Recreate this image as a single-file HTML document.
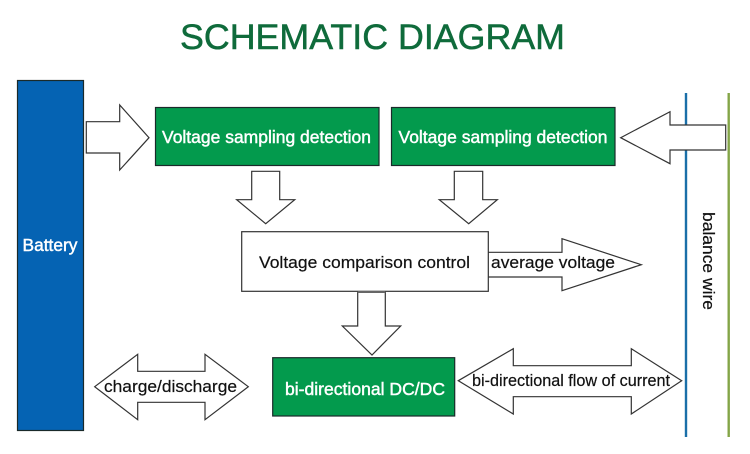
<!DOCTYPE html>
<html>
<head>
<meta charset="utf-8">
<style>
html,body{margin:0;padding:0;background:#fff;width:750px;height:454px;overflow:hidden}
svg{display:block}
text{font-family:"Liberation Sans",sans-serif}
.a{fill:#fff;stroke:#333;stroke-width:1.2;stroke-linejoin:miter}
.b{stroke:#1a2a2a;stroke-width:1.2}
.w{fill:#fff;font-size:17.5px;stroke:#fff;stroke-width:.45}
.k{fill:#111;font-size:17px;stroke:#111;stroke-width:.2}
</style>
</head>
<body>
<svg width="750" height="454" viewBox="0 0 750 454" xmlns="http://www.w3.org/2000/svg">
<text x="180" y="49" font-size="35.5" fill="#0f6b3b" stroke="#0f6b3b" stroke-width=".5" textLength="385" lengthAdjust="spacingAndGlyphs">SCHEMATIC DIAGRAM</text>

<line x1="686" y1="93" x2="686" y2="437" stroke="#1a6fa8" stroke-width="2.4"/>
<line x1="728.7" y1="93" x2="728.7" y2="437" stroke="#84a547" stroke-width="2.4"/>

<rect x="17.5" y="80.5" width="66" height="350" fill="#0563b3" class="b"/>
<text x="22.5" y="251" class="w" textLength="55" lengthAdjust="spacingAndGlyphs">Battery</text>

<polygon class="a" points="86.3,121.7 119.7,121.7 119.7,105 149,137.7 119.7,170 119.7,153 86.3,153"/>

<rect x="155.5" y="107.5" width="223.5" height="58" fill="#039a4d" class="b"/>
<text x="162" y="143" class="w" textLength="209" lengthAdjust="spacingAndGlyphs">Voltage sampling detection</text>

<rect x="391.5" y="107.5" width="223.5" height="58" fill="#039a4d" class="b"/>
<text x="398.5" y="143" class="w" textLength="209" lengthAdjust="spacingAndGlyphs">Voltage sampling detection</text>

<polygon class="a" points="725.7,125 670,125 670,111.7 620.7,137.7 670,163.7 670,150 725.7,150"/>

<polygon class="a" points="251.7,171.3 279.7,171.3 279.7,199.7 294.7,199.7 265.7,223.7 236.7,199.7 251.7,199.7"/>
<polygon class="a" points="454.3,171.3 482.7,171.3 482.7,199.7 497.3,199.7 468.7,223.7 439.3,199.7 454.3,199.7"/>

<polygon class="a" points="488,252.3 562,252.3 562,238.7 641.3,264.7 562,290.7 562,277 488,277"/>
<rect x="241.7" y="231.7" width="246.6" height="59.6" fill="#fff" stroke="#333" stroke-width="1.2"/>
<text x="259" y="268" class="k" textLength="211" lengthAdjust="spacingAndGlyphs">Voltage comparison control</text>
<text x="491" y="268" class="k" textLength="124" lengthAdjust="spacingAndGlyphs">average voltage</text>

<polygon class="a" points="357.7,292 385.3,292 385.3,326 400.7,326 372,355 342.3,326 357.7,326"/>
<rect x="357.7" y="291" width="27.6" height="2" fill="#666"/>

<rect x="272.7" y="357.7" width="182" height="58.3" fill="#039a4d" class="b"/>
<text x="285" y="395" class="w" textLength="160" lengthAdjust="spacingAndGlyphs">bi-directional DC/DC</text>

<polygon class="a" points="94.7,386.7 137.7,354.3 137.7,371.3 205,371.3 205,354.3 248.3,386.7 205,419.7 205,402.3 137.7,402.3 137.7,419.7"/>
<text x="104" y="392" class="k" textLength="133" lengthAdjust="spacingAndGlyphs">charge/discharge</text>

<polygon class="a" points="458.3,380.7 513.3,348.7 513.3,365.7 631.3,365.7 631.3,348.7 681.7,380.7 631.3,414 631.3,396.7 513.3,396.7 513.3,414"/>
<text x="472" y="386" class="k" textLength="198" lengthAdjust="spacingAndGlyphs">bi-directional flow of current</text>

<text transform="translate(703,212) rotate(90)" class="k" textLength="98" lengthAdjust="spacingAndGlyphs">balance wire</text>
</svg>
</body>
</html>
